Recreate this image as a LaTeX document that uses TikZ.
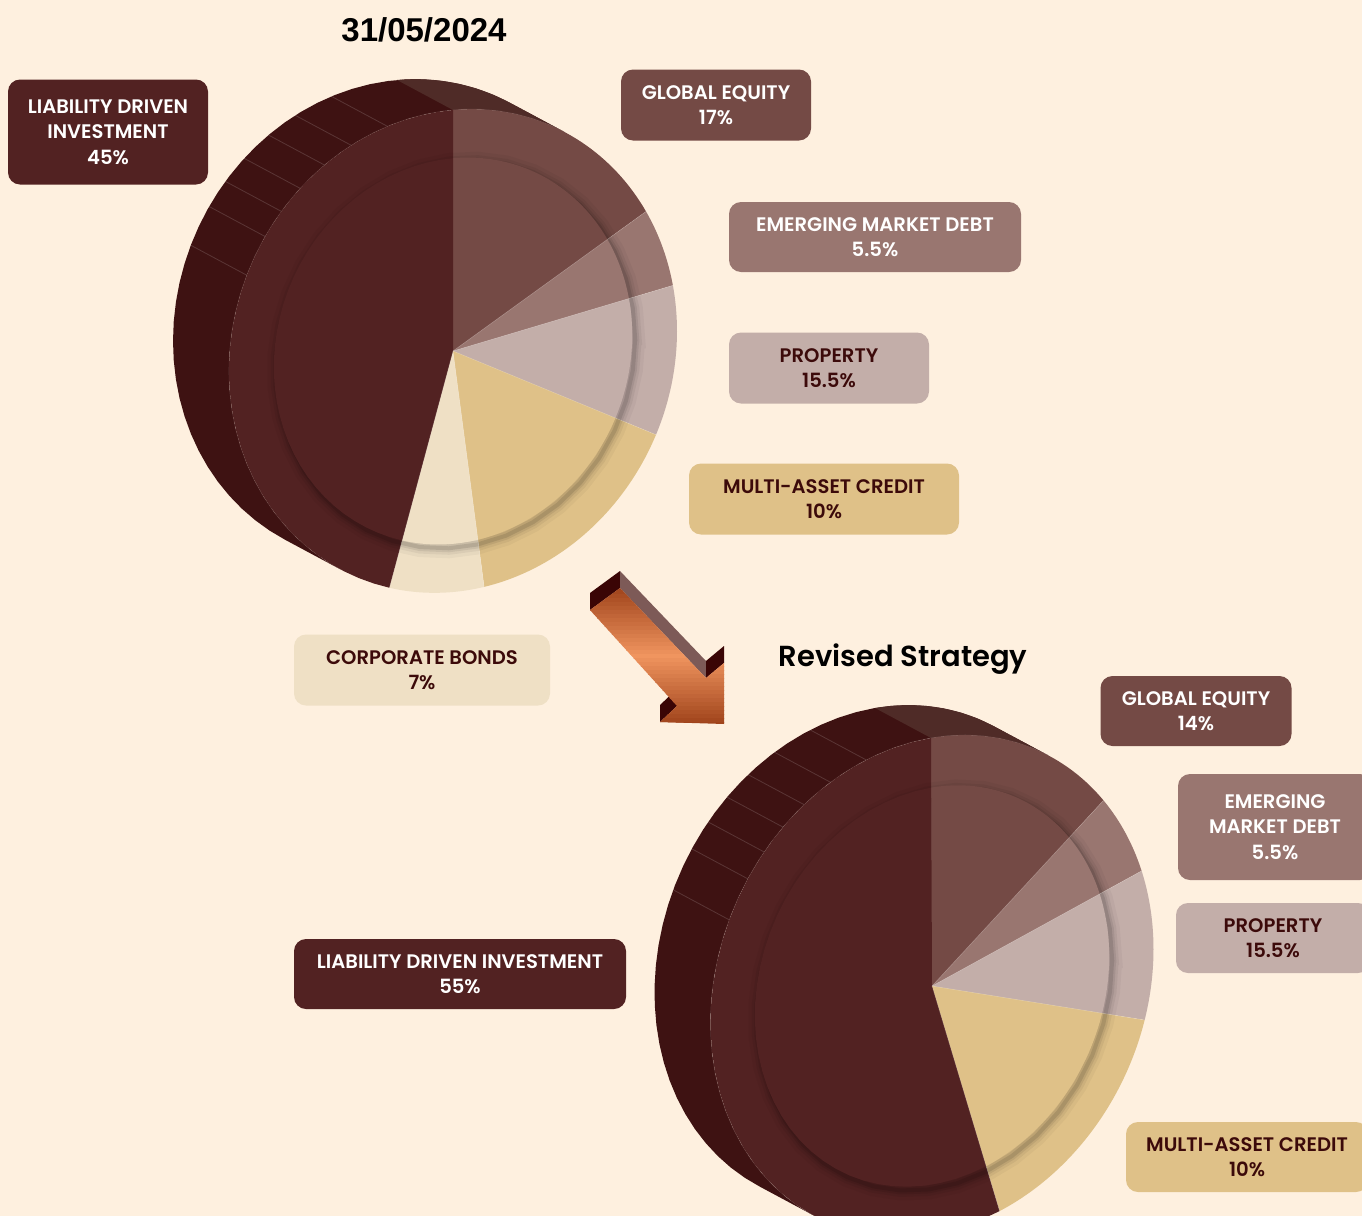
\documentclass[tikz,border=0pt]{standalone}
\usepackage{fontspec}
\setmainfont{Poppins}[BoldFont={Poppins SemiBold}]
\newfontfamily\datefont{Liberation Sans}
\usetikzlibrary{calc}
\definecolor{backgr}{RGB}{254,240,223}
\definecolor{ldi}{RGB}{82,34,34}
\definecolor{ldiside}{RGB}{62,18,18}
\definecolor{ge}{RGB}{116,74,69}
\definecolor{geside}{RGB}{79,43,39}
\definecolor{emd}{RGB}{153,118,112}
\definecolor{prop}{RGB}{195,174,169}
\definecolor{mac}{RGB}{223,193,136}
\definecolor{cb}{RGB}{239,224,197}
\definecolor{darktext}{RGB}{60,10,10}
\definecolor{arrowdark}{RGB}{58,5,5}
\definecolor{arrowtop}{RGB}{125,90,87}
\definecolor{arrowrust}{RGB}{160,68,28}
\definecolor{arrowlight}{RGB}{240,149,95}

% centre, first axis, second axis, depth of one pie
\newcommand{\setpie}[8]{\def\pcx{#1}\def\pcy{#2}\def\pux{#3}\def\puy{#4}\def\pvx{#5}\def\pvy{#6}\def\pdx{#7}\def\pdy{#8}}
\newcommand{\rim}[5]{#1 plot[domain=#2:#3, samples=40] ({\pcx+#5*\pdx+#4*(\pux*cos(\x)+\pvx*sin(\x))},{\pcy+#5*\pdy+#4*(\puy*cos(\x)+\pvy*sin(\x))})}
\newcommand{\slice}[4]{\fill[#1] (\pcx,\pcy) \rim{--}{#2}{#3}{#4}{0} -- cycle;}

\tikzset{
	valuebox/.style={rounded corners=6pt, align=center, inner sep=0pt, font=\bfseries\fontsize{9.8}{12.75}\selectfont},
	facet/.style={draw=white, opacity=0.15, line width=0.4pt},
	seam/.style={draw=white, opacity=0.2, line width=0.3pt}
}

\begin{document}
\begin{tikzpicture}[x=0.5pt,y=-0.5pt]
	\fill[backgr] (0,0) rectangle (1362,1216);
	\useasboundingbox (0,0) rectangle (1362,1216);

	% 31/05/2024
	\setpie{453}{351}{224}{(-20)}{0}{(-241)}{(-56)}{(-30)}
	\fill[ldiside] \rim{}{60}{240}{1}{0} \rim{--}{240}{60}{1}{1} -- cycle;
	\fill[geside] \rim{}{60}{90}{1}{0} \rim{--}{90}{60}{1}{1} -- cycle;
	\foreach \t in {107,117,125,133,140,147,157}
		\draw[facet] ({\pcx+\pux*cos(\t)+\pvx*sin(\t)},{\pcy+\puy*cos(\t)+\pvy*sin(\t)}) -- ++({\pdx},{\pdy});
	\draw[facet] \rim{}{60}{240}{1}{0};
	\slice{ge}{90}{30.5}{1}
	\slice{emd}{30.5}{11}{1}
	\slice{prop}{11}{-25}{1}
	\slice{mac}{-25}{-82}{1}
	\slice{cb}{-82}{-106.5}{1}
	\slice{ldi}{-106.5}{-270}{1}
	\begin{scope}[shift={(3,4)}]
		\foreach \w/\o in {20/0.035,13/0.05,8/0.07,4/0.1}
			\draw[black, line width=\w*0.5pt, opacity=\o] \rim{}{0}{360}{0.8}{0} -- cycle;
	\end{scope}
	\slice{ge}{90}{30.5}{0.8}
	\slice{emd}{30.5}{11}{0.8}
	\slice{prop}{11}{-25}{0.8}
	\slice{mac}{-25}{-82}{0.8}
	\slice{cb}{-82}{-106.5}{0.8}
	\slice{ldi}{-106.5}{-270}{0.8}
	\foreach \t in {30.5,11,-25,-82,-106.5}
		\draw[seam] (\pcx,\pcy) -- ({\pcx+\pux*cos(\t)+\pvx*sin(\t)},{\pcy+\puy*cos(\t)+\pvy*sin(\t)});

	% Revised Strategy
	\setpie{932}{986}{221.5}{(-38)}{(-1)}{(-248)}{(-56)}{(-30)}
	\fill[ldiside] \rim{}{58}{238}{1}{0} \rim{--}{238}{58}{1}{1} -- cycle;
	\fill[geside] \rim{}{58}{90}{1}{0} \rim{--}{90}{58}{1}{1} -- cycle;
	\foreach \t in {107,117,125,132,139,146,156}
		\draw[facet] ({\pcx+\pux*cos(\t)+\pvx*sin(\t)},{\pcy+\puy*cos(\t)+\pvy*sin(\t)}) -- ++({\pdx},{\pdy});
	\draw[facet] \rim{}{58}{238}{1}{0};
	\slice{ge}{90}{39}{1}
	\slice{emd}{39}{18.6}{1}
	\slice{prop}{18.6}{-16.5}{1}
	\slice{mac}{-16.5}{-72.5}{1}
	\slice{ldi}{-72.5}{-270}{1}
	\begin{scope}[shift={(3,4)}]
		\foreach \w/\o in {20/0.035,13/0.05,8/0.07,4/0.1}
			\draw[black, line width=\w*0.5pt, opacity=\o] \rim{}{0}{360}{0.8}{0} -- cycle;
	\end{scope}
	\slice{ge}{90}{39}{0.8}
	\slice{emd}{39}{18.6}{0.8}
	\slice{prop}{18.6}{-16.5}{0.8}
	\slice{mac}{-16.5}{-72.5}{0.8}
	\slice{ldi}{-72.5}{-270}{0.8}
	\foreach \t in {39,18.6,-16.5,-72.5}
		\draw[seam] (\pcx,\pcy) -- ({\pcx+\pux*cos(\t)+\pvx*sin(\t)},{\pcy+\puy*cos(\t)+\pvy*sin(\t)});

	% arrow
	\coordinate (a1) at (590,610);
	\coordinate (a2) at (620,588);
	\coordinate (a3) at (706,678);
	\coordinate (a4) at (724,663);
	\coordinate (a5) at (724,724);
	\coordinate (a6) at (660,722);
	\coordinate (a7) at (677,706);
	\fill[arrowdark] (a1) -- (a2) -- ($(a2)+(0,-17)$) -- ($(a1)+(0,-17)$) -- cycle;
	\fill[arrowtop] (a2) -- (a3) -- ($(a3)+(0,-17)$) -- ($(a2)+(0,-17)$) -- cycle;
	\fill[arrowdark] (a3) -- (a4) -- ($(a4)+(0,-17)$) -- ($(a3)+(0,-17)$) -- cycle;
	\fill[arrowdark] (a6) -- (a7) -- ($(a7)+(0,-17)$) -- ($(a6)+(0,-17)$) -- cycle;
	\begin{scope}
		\clip (a1) -- (a2) -- (a3) -- (a4) -- (a5) -- (a6) -- (a7) -- cycle;
		\foreach \i [evaluate=\i as \p using {int(max(0,100*(1-abs(588+4*\i-656)/68)))}] in {0,...,35}
			\fill[arrowlight!\p!arrowrust] (580,586+4*\i) rectangle (730,591+4*\i);
	\end{scope}

	% titles
	\node[name=olddate, font=\datefont\bfseries\fontsize{16.5}{18}\selectfont] at (424,30) {31/05/2024};
	\node[name=revised, font=\bfseries\fontsize{14.5}{16}\selectfont] at (903,659) {Revised Strategy};

	% labels 31/05/2024
	\node[valuebox, name=ldiold, fill=ldi, text=white, minimum width=100pt, minimum height=52.5pt] at (108,132) {LIABILITY DRIVEN\\INVESTMENT\\45\%};
	\node[valuebox, name=geold, fill=ge, text=white, minimum width=95pt, minimum height=35.5pt] at (716,105) {GLOBAL EQUITY\\17\%};
	\node[valuebox, name=emdold, fill=emd, text=white, minimum width=146pt, minimum height=35pt] at (875,237) {EMERGING MARKET DEBT\\5.5\%};
	\node[valuebox, name=propold, fill=prop, text=darktext, minimum width=100pt, minimum height=35.5pt] at (829,368) {PROPERTY\\15.5\%};
	\node[valuebox, name=macold, fill=mac, text=darktext, minimum width=135pt, minimum height=35.5pt] at (824,499) {MULTI-ASSET CREDIT\\10\%};
	\node[valuebox, name=cbold, fill=cb, text=darktext, minimum width=128pt, minimum height=35.5pt] at (422,670) {CORPORATE BONDS\\7\%};

	% labels Revised Strategy
	\node[valuebox, name=genew, fill=ge, text=white, minimum width=95.5pt, minimum height=35pt] at (1196,711) {GLOBAL EQUITY\\14\%};
	\node[valuebox, name=emdnew, fill=emd, text=white, minimum width=97pt, minimum height=53pt] at (1275,827) {EMERGING\\MARKET DEBT\\5.5\%};
	\node[valuebox, name=propnew, fill=prop, text=darktext, minimum width=97pt, minimum height=35pt] at (1273,938) {PROPERTY\\15.5\%};
	\node[valuebox, name=ldinew, fill=ldi, text=white, minimum width=166pt, minimum height=35pt] at (460,974) {LIABILITY DRIVEN INVESTMENT\\55\%};
	\node[valuebox, name=macnew, fill=mac, text=darktext, minimum width=121pt, minimum height=35pt] at (1247,1157) {MULTI-ASSET CREDIT\\10\%};
\end{tikzpicture}
\end{document}
